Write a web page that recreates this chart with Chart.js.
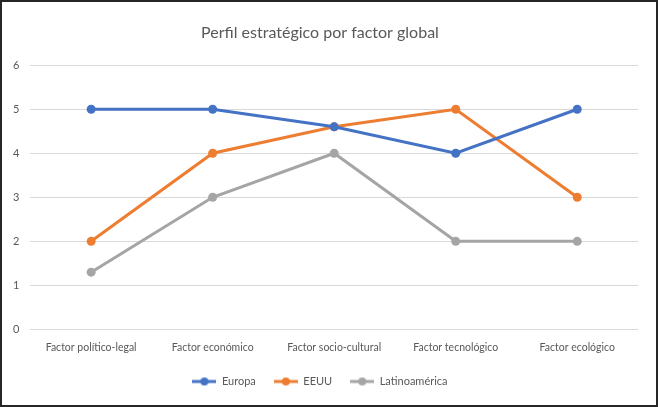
<!DOCTYPE html>
<html>
<head>
<meta charset="utf-8">
<script src="https://cdn.jsdelivr.net/npm/chart.js@4.4.0/dist/chart.umd.min.js"></script>
<style>
    html, body { margin: 0; padding: 0; background: #fff; }
    #frame {
        width: 658px; height: 407px; box-sizing: border-box;
        border: 2px solid #262626; position: relative;
    }
    #chart { display: block; }
</style>
</head>
<body>
<div id="frame"><canvas id="chart" width="654" height="403"></canvas></div>
<script>
// Chart data
const categories = ['Factor político-legal', 'Factor económico', 'Factor socio-cultural', 'Factor tecnológico', 'Factor ecológico'];
const europa = [5, 5, 4.6, 4, 5];
const eeuu = [2, 4, 4.6, 5, 3];
const latinoamerica = [1.3, 3, 4, 2, 2];
const yTicks = [0, 1, 2, 3, 4, 5, 6];

const FONT = "Lato, 'Open Sans', sans-serif";

// Small line+dot icon for legend entries (Excel style)
function legendIcon(color) {
    const c = document.createElement('canvas');
    c.width = 24; c.height = 10;
    const ctx = c.getContext('2d');
    ctx.strokeStyle = color;
    ctx.lineWidth = 3;
    ctx.beginPath();
    ctx.moveTo(0, 5);
    ctx.lineTo(24, 5);
    ctx.stroke();
    ctx.fillStyle = color;
    ctx.beginPath();
    ctx.arc(12, 5, 4, 0, Math.PI * 2);
    ctx.fill();
    return c;
}

function series(label, data, color) {
    return {
        label: label,
        data: data,
        borderColor: color,
        backgroundColor: color,
        borderWidth: 3,
        pointRadius: 4.5,
        pointHoverRadius: 4.5,
        pointBorderWidth: 0,
        tension: 0,
        fill: false
    };
}

new Chart(document.getElementById('chart'), {
    type: 'line',
    data: {
        labels: categories,
        datasets: [
            series('Europa', europa, '#4472C4'),
            series('EEUU', eeuu, '#ED7D31'),
            series('Latinoamérica', latinoamerica, '#A5A5A5')
        ]
    },
    options: {
        responsive: false,
        animation: false,
        layout: { padding: { left: 0, right: 18, top: 12, bottom: 8 } },
        plugins: {
            title: {
                display: true,
                text: 'Perfil estratégico por factor global',
                color: '#595959',
                font: { family: FONT, size: 16, weight: 'normal' },
                padding: { top: 9, bottom: 23 }
            },
            legend: {
                position: 'bottom',
                labels: {
                    color: '#595959',
                    font: { family: FONT, size: 11 },
                    usePointStyle: true,
                    pointStyleWidth: 24,
                    boxHeight: 10,
                    padding: 18,
                    generateLabels: (chart) => {
                        const items = Chart.defaults.plugins.legend.labels.generateLabels(chart);
                        items.forEach((it, i) => {
                            it.pointStyle = legendIcon(chart.data.datasets[i].borderColor);
                        });
                        return items;
                    }
                }
            },
            tooltip: { enabled: false }
        },
        scales: {
            x: {
                offset: true,
                grid: { display: false },
                border: { display: false },
                ticks: {
                    color: '#595959',
                    font: { family: FONT, size: 10.5 },
                    maxRotation: 0,
                    autoSkip: false,
                    padding: 4
                }
            },
            y: {
                min: 0,
                max: 6,
                afterBuildTicks: (axis) => {
                    axis.ticks = yTicks.map(v => ({ value: v }));
                },
                grid: { color: '#D9D9D9', lineWidth: 1, drawTicks: false },
                border: { display: false },
                ticks: {
                    color: '#595959',
                    font: { family: FONT, size: 11 },
                    padding: 11
                }
            }
        }
    }
});
</script>
</body>
</html>
